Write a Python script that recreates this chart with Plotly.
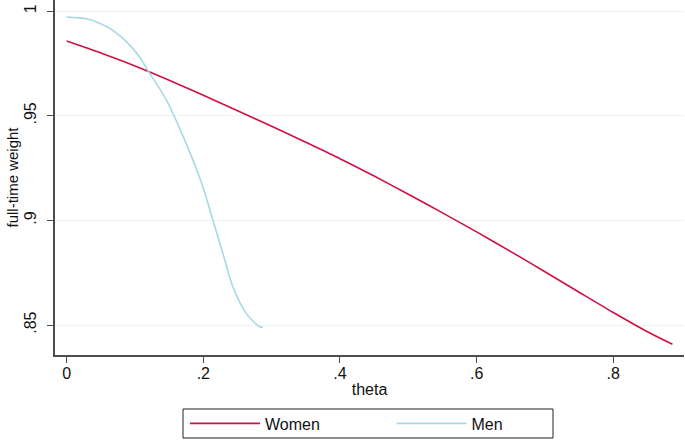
import plotly.graph_objects as go

# Data
women_theta = [0.0, 0.05, 0.1, 0.15, 0.2, 0.25, 0.3, 0.35, 0.4, 0.45, 0.5, 0.55, 0.6, 0.65, 0.7, 0.75, 0.8, 0.85, 0.8866]
women_weight = [0.9857, 0.9800, 0.9738, 0.9670, 0.9598, 0.9524, 0.9450, 0.9373, 0.9295, 0.9212, 0.9125, 0.9036, 0.8945, 0.8851, 0.8755, 0.8657, 0.8560, 0.8468, 0.8408]

men_theta = [0.0, 0.03, 0.0559, 0.07, 0.0851, 0.1046, 0.1191, 0.146, 0.1848, 0.1994, 0.214, 0.2286, 0.2432, 0.2628, 0.2822, 0.287]
men_weight = [0.9971, 0.9962, 0.9930, 0.9902, 0.9861, 0.9790, 0.9715, 0.9575, 0.9288, 0.9160, 0.9002, 0.8843, 0.8683, 0.8556, 0.8492, 0.8490]

x_ticks = [0, 0.2, 0.4, 0.6, 0.8]
x_tick_labels = ["0", ".2", ".4", ".6", ".8"]
y_ticks = [0.85, 0.9, 0.95, 1.0]
y_tick_labels = [".85", ".9", ".95", "1"]

FONT = "Liberation Sans, Arial, sans-serif"
AXIS = "#4d4d4d"
GRID = "#eaf2f3"
NB = "\u00a0"

W, H = 685, 440
ML, MR, MT, MB = 55, 1, 0, 85
PW, PH = W - ML - MR, H - MT - MB


def px_x(p):
    return (p - ML) / PW


def px_y(p):
    return (PH + MT - p) / PH


fig = go.Figure()
fig.add_trace(go.Scatter(x=women_theta, y=women_weight, mode="lines", name="Women" + NB * 15,
                         line=dict(color="#cf1040", width=1.6, shape="spline", smoothing=0.8)))
fig.add_trace(go.Scatter(x=men_theta, y=men_weight, mode="lines", name="Men" + NB * 9,
                         line=dict(color="#a8d8e6", width=1.6, shape="spline", smoothing=0.8)))

# legend frame
fig.add_shape(type="rect", xref="paper", yref="paper",
              x0=px_x(183), x1=px_x(553), y0=px_y(438), y1=px_y(409),
              line=dict(color="#222222", width=1), fillcolor="rgba(0,0,0,0)", layer="above")

fig.update_layout(
    width=W, height=H,
    margin=dict(l=ML, r=MR, t=MT, b=MB, autoexpand=False),
    paper_bgcolor="white", plot_bgcolor="white",
    font=dict(family=FONT, color="#111111", size=16),
    showlegend=True,
    legend=dict(orientation="h", x=px_x(185), xanchor="left", y=px_y(423.5), yanchor="middle",
                borderwidth=0, bgcolor="rgba(0,0,0,0)",
                font=dict(size=16, family=FONT), itemwidth=70,
                tracegroupgap=0),
    xaxis=dict(range=[-0.0171, 0.9035], tickvals=x_ticks, ticktext=x_tick_labels,
               automargin=False,
               showline=True, linecolor=AXIS, linewidth=1.5, ticks="outside",
               ticklen=6, tickcolor=AXIS, tickwidth=1, showgrid=False, zeroline=False,
               tickfont=dict(size=16), ticklabelstandoff=-3,
               title=dict(text="theta", font=dict(size=16), standoff=3)),
    yaxis=dict(range=[0.8357, 1.0053], tickvals=y_ticks, ticktext=y_tick_labels,
               tickangle=-90, automargin=False,
               showline=True, linecolor=AXIS, linewidth=1.5, ticks="outside",
               ticklen=6, tickcolor=AXIS, tickwidth=1, showgrid=True, gridcolor=GRID,
               gridwidth=1.2, zeroline=False, tickfont=dict(size=16), ticklabelstandoff=5,
               title=dict(text="full-time weight", font=dict(size=15), standoff=0)),
)

fig.write_html("out.html", config={"displayModeBar": False},
               post_script="document.body.style.margin='0px';document.body.style.padding='0px';")
